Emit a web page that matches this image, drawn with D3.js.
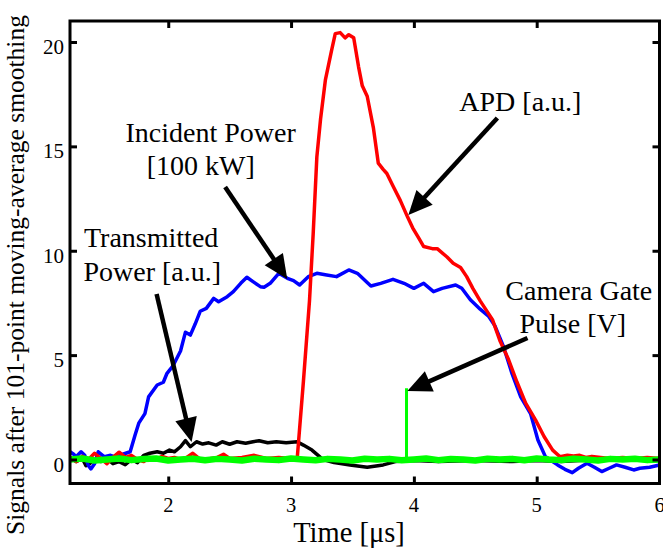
<!DOCTYPE html>
<html><head><meta charset="utf-8">
<script src="https://cdn.jsdelivr.net/npm/d3@7"></script>
<style>
html,body{margin:0;padding:0;background:#fff;}
svg{display:block;}
text{font-family:"Liberation Serif","Times New Roman",serif;fill:#000;}
</style></head>
<body>
<svg id="chart" width="663" height="548"></svg>
<script>
// ---- data (time in µs, signal values) ----
const xTicks = [2, 3, 4, 5, 6];
const yTicks = [0, 5, 10, 15, 20];

const apdT = [1.20,1.25,1.30,1.35,1.40,1.45,1.50,1.55,1.60,1.65,1.70,1.75,1.80,1.85,1.90,1.95,2.00,2.05,2.10,2.15,2.20,2.25,2.30,2.40,2.45,2.50,2.60,2.70,2.80,2.90,3.00,3.05,3.10,3.15,3.18,3.21,3.24,3.28,3.33,3.36,3.40,3.44,3.47,3.51,3.55,3.58,3.62,3.67,3.71,3.75,3.78,3.83,3.89,3.95,3.99,4.04,4.08,4.15,4.19,4.27,4.32,4.38,4.43,4.48,4.54,4.64,4.70,4.77,4.84,4.91,4.99,5.06,5.13,5.19,5.25,5.30,5.35,5.40,5.45,5.52,5.60,5.70,5.80,5.90,6.00];
const apdV = [0.10,-0.10,0.15,0.00,0.30,0.05,-0.20,0.10,0.35,0.10,0.20,0.00,-0.10,0.10,0.00,0.15,0.05,0.10,0.00,0.10,0.30,0.05,0.00,0.10,0.25,0.05,0.10,0.20,0.05,0.10,0.05,0.05,3.70,7.60,10.8,14.5,16.3,18.2,19.6,20.4,20.45,20.2,20.35,20.2,18.8,17.9,17.4,15.9,14.2,13.9,13.7,13.1,12.4,11.6,11.1,10.6,10.2,10.1,10.1,9.7,9.4,9.2,8.76,8.2,7.6,6.7,5.7,4.8,3.7,2.7,1.9,1.1,0.45,0.13,0.20,0.17,0.20,0.10,0.15,0.10,0.05,0.10,0.05,0.10,0.05];

const incT = [1.20,1.23,1.25,1.29,1.32,1.35,1.37,1.40,1.43,1.48,1.53,1.58,1.63,1.69,1.73,1.76,1.81,1.84,1.91,1.96,1.99,2.04,2.10,2.14,2.18,2.22,2.26,2.31,2.37,2.41,2.48,2.53,2.59,2.64,2.69,2.75,2.78,2.83,2.90,2.97,3.02,3.07,3.14,3.21,3.29,3.37,3.47,3.54,3.65,3.73,3.83,3.92,4.00,4.08,4.16,4.23,4.34,4.39,4.46,4.54,4.61,4.66,4.73,4.80,4.87,4.95,5.01,5.07,5.13,5.17,5.23,5.29,5.34,5.41,5.47,5.53,5.59,5.65,5.72,5.79,5.84,5.92,6.00];
const incV = [0.37,0.25,0.13,0.37,0.20,-0.30,-0.45,-0.20,0.37,0.13,0.20,0.10,0.25,0.37,1.17,1.74,2.20,3.00,3.57,3.70,4.13,4.50,5.20,6.10,5.96,6.50,7.10,7.24,7.72,7.56,7.80,8.04,8.44,8.73,8.52,8.28,8.25,8.44,8.92,8.68,8.57,8.36,8.76,8.92,8.84,8.76,9.08,8.92,8.31,8.44,8.63,8.44,8.20,8.44,8.04,8.20,8.36,8.20,7.65,7.20,6.85,6.40,5.40,4.10,3.00,2.20,0.93,0.15,-0.10,-0.26,-0.47,-0.63,-0.42,-0.18,-0.37,-0.58,-0.42,-0.26,-0.37,-0.50,-0.42,-0.37,-0.26];

const trT = [1.20,1.25,1.30,1.33,1.36,1.40,1.45,1.50,1.55,1.60,1.65,1.70,1.75,1.80,1.85,1.91,1.96,2.01,2.05,2.10,2.14,2.18,2.23,2.28,2.33,2.39,2.44,2.50,2.56,2.63,2.69,2.74,2.81,2.88,2.96,3.05,3.10,3.17,3.22,3.26,3.35,3.48,3.62,3.75,3.85,4.00,4.20,4.50,4.80,5.00,5.20,5.50,6.00];
const trV = [0.10,-0.10,0.05,-0.30,-0.20,0.00,-0.10,0.05,-0.20,-0.10,-0.25,0.00,-0.15,0.20,0.30,0.37,0.30,0.45,0.37,0.61,0.90,0.61,0.85,0.74,0.80,0.69,0.85,0.73,0.85,0.78,0.85,0.90,0.80,0.85,0.80,0.85,0.69,0.45,0.20,0.00,-0.15,-0.26,-0.37,-0.26,-0.10,-0.05,-0.10,-0.05,-0.10,-0.05,-0.10,0.00,-0.05];

const gateT = [1.20,1.30,1.40,1.50,1.60,1.70,1.80,1.90,2.00,2.10,2.20,2.30,2.40,2.50,2.60,2.70,2.80,2.90,3.00,3.10,3.20,3.30,3.40,3.50,3.60,3.70,3.80,3.90,4.00,4.10,4.20,4.30,4.40,4.50,4.60,4.70,4.80,4.90,5.00,5.10,5.20,5.30,5.40,5.50,5.60,5.70,5.80,5.90,6.00];
const gateV = [0.00,0.05,-0.05,0.00,0.05,-0.03,0.02,0.05,-0.05,0.00,0.04,-0.04,0.03,0.00,-0.05,0.04,0.00,-0.03,0.05,0.00,-0.04,0.03,0.00,-0.05,0.04,0.00,0.03,-0.04,0.00,0.05,-0.03,0.02,0.00,-0.05,0.04,0.00,0.03,-0.04,0.05,0.00,-0.03,0.04,0.00,-0.05,0.03,0.00,0.04,-0.03,0.00];
const pulseT = [3.94, 3.94];
const pulseV = [0.00, 3.41];

// annotations: text anchor points and arrows in data coordinates
const labels = [
  {text: "Incident Power", t: 2.345, v: 15.22, anchor: "middle"},
  {text: "[100 kW]",       t: 2.264, v: 13.63, anchor: "middle"},
  {text: "Transmitted",    t: 1.314, v: 10.18, anchor: "start"},
  {text: "Power [a.u.]",   t: 1.310, v: 8.55,  anchor: "start"},
  {text: "APD [a.u.]",     t: 4.370, v: 16.69, anchor: "start"},
  {text: "Camera Gate",    t: 4.745, v: 7.66,  anchor: "start"},
  {text: "Pulse [V]",      t: 4.860, v: 6.06,  anchor: "start"}
];
const arrows = [
  {t0: 2.463, v0: 13.05, t1: 2.969, v1: 8.65},
  {t0: 1.905, v0: 7.93,  t1: 2.190, v1: 0.84},
  {t0: 4.680, v0: 16.36, t1: 3.955, v1: 11.71},
  {t0: 4.925, v0: 5.82,  t1: 3.947, v1: 3.28}
];

// ---- layout ----
const svg = d3.select("#chart");
const L = 70, R = 659.5, T = 21, B = 483.5;
const x = d3.scaleLinear().domain([1.2, 6]).range([L, R]);
const y = d3.scaleLinear().domain([0, 20]).range([459.5, 42]);

svg.append("clipPath").attr("id", "clip")
  .append("rect").attr("x", L).attr("y", T).attr("width", R - L).attr("height", B - T);

const line = d3.line().x(d => x(d[0])).y(d => y(d[1]));
const zipper = (a, b) => a.map((t, i) => [t, b[i]]);

const g = svg.append("g").attr("clip-path", "url(#clip)");
g.append("path").datum(zipper(trT, trV)).attr("d", line)
  .attr("fill", "none").attr("stroke", "#000").attr("stroke-width", 3.5).attr("stroke-linejoin", "round");
g.append("path").datum(zipper(incT, incV)).attr("d", line)
  .attr("fill", "none").attr("stroke", "#0000ff").attr("stroke-width", 3.5).attr("stroke-linejoin", "round");
g.append("path").datum(zipper(apdT, apdV)).attr("d", line)
  .attr("fill", "none").attr("stroke", "#ff0000").attr("stroke-width", 3.5).attr("stroke-linejoin", "round");
g.append("path").datum(zipper(gateT, gateV)).attr("d", line)
  .attr("fill", "none").attr("stroke", "#00ff00").attr("stroke-width", 6.5).attr("stroke-linejoin", "round");
g.append("path").datum(zipper(pulseT, pulseV)).attr("d", line)
  .attr("fill", "none").attr("stroke", "#00ff00").attr("stroke-width", 3);

// ---- axes (inward ticks on all four sides) ----
const tk = 7;
const axB = d3.axisBottom(x).tickValues(xTicks.slice(0, -1)).tickSize(-tk).tickFormat("");
const axT = d3.axisTop(x).tickValues(xTicks.slice(0, -1)).tickSize(-tk).tickFormat("");
const axLft = d3.axisLeft(y).tickValues(yTicks).tickSize(-tk).tickFormat("");
const axRgt = d3.axisRight(y).tickValues(yTicks).tickSize(-tk).tickFormat("");
[[axB, `translate(0,${B})`], [axT, `translate(0,${T})`], [axLft, `translate(${L},0)`], [axRgt, `translate(${R},0)`]]
  .forEach(([a, tr]) => {
    const s = svg.append("g").attr("transform", tr).call(a);
    s.select(".domain").remove();
    s.selectAll("line").attr("stroke", "#000").attr("stroke-width", 3);
  });

svg.append("rect").attr("x", L).attr("y", T).attr("width", R - L).attr("height", B - T)
  .attr("fill", "none").attr("stroke", "#000").attr("stroke-width", 3);

// tick labels
svg.selectAll(".xl").data(xTicks).enter().append("text")
  .attr("x", d => x(d)).attr("y", 512).attr("text-anchor", "middle")
  .attr("font-size", 20.5).text(d => d);
svg.selectAll(".yl").data(yTicks).enter().append("text")
  .attr("x", 64).attr("y", d => y(d) + 12).attr("text-anchor", "end")
  .attr("font-size", 21).text(d => d);

// axis titles
svg.append("text").attr("x", 349).attr("y", 542).attr("text-anchor", "middle")
  .attr("font-size", 28.5).text("Time [μs]");
svg.append("text").attr("transform", "translate(23.5,275) rotate(-90)").attr("text-anchor", "middle")
  .attr("font-size", 25.5).text("Signals after 101-point moving-average smoothing");

// annotations
svg.selectAll(".ann").data(labels).enter().append("text")
  .attr("x", d => x(d.t)).attr("y", d => y(d.v)).attr("text-anchor", d => d.anchor)
  .attr("font-size", 28).text(d => d.text);

const headL = 24, headW = 11;
arrows.forEach(a => {
  const x0 = x(a.t0), y0 = y(a.v0), x1 = x(a.t1), y1 = y(a.v1);
  const dx = x1 - x0, dy = y1 - y0, len = Math.hypot(dx, dy);
  const ux = dx / len, uy = dy / len;
  const bx = x1 - ux * headL, by = y1 - uy * headL;
  svg.append("line").attr("x1", x0).attr("y1", y0).attr("x2", bx + ux * 2).attr("y2", by + uy * 2)
    .attr("stroke", "#000").attr("stroke-width", 4.5);
  svg.append("path").attr("d", `M${x1},${y1}L${bx - uy * headW},${by + ux * headW}L${bx + uy * headW},${by - ux * headW}Z`)
    .attr("fill", "#000");
});
</script>
</body></html>
